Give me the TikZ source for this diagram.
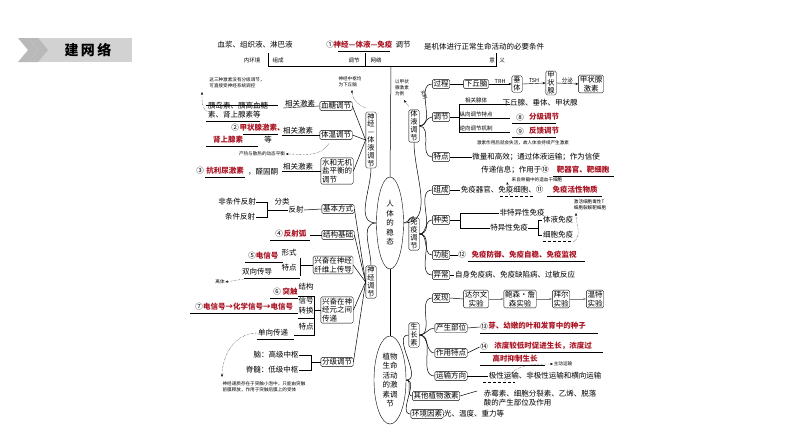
\documentclass[tikz,border=0pt]{standalone}
\usepackage{fontspec}
\setmainfont{Noto Sans CJK SC}
\usetikzlibrary{shapes.geometric,arrows.meta}
\definecolor{rd}{RGB}{170,20,35}
\newcommand{\nl}{\\}
\tikzset{
 bx/.style={draw,rounded corners=1.5pt,inner sep=1.2pt,font=\fontsize{7.5}{8.5}\selectfont,align=center},
 mbx/.style={bx},
 tx/.style={inner sep=0.5pt,font=\fontsize{7.5}{9}\selectfont,align=left},
 hw/.style={inner sep=0.5pt,font=\fontsize{4.6}{6}\selectfont,align=left},
 ln/.style={draw,line width=0.5pt},
 ar/.style={-{Stealth[length=3pt]},line width=0.4pt},
 da/.style={densely dotted,-{Stealth[length=3pt]},line width=0.4pt},
 ul/.style={draw,line width=0.4pt},
 red/.style={text=rd,font=\fontsize{7.5}{8.5}\selectfont\bfseries},
 vbx/.style={draw,rounded corners=1.5pt,text width=8pt,inner xsep=1.2pt,inner ysep=1pt,font=\fontsize{7.2}{7.9}\selectfont,align=center},
 el/.style={draw,ellipse,inner sep=0pt,font=\fontsize{7.5}{9.5}\selectfont,align=center}
}
\begin{document}
\begin{tikzpicture}[x=1pt,y=-1pt]
\useasboundingbox (0,0) rectangle (794,447);
% header
\fill[gray!35] (38,38) rectangle (132,62);
\foreach \d in {0,10}{\fill[gray!55] (18+\d,38)--(28+\d,38)--(38+\d,50)--(28+\d,62)--(18+\d,62)--(28+\d,50)--cycle;}
\node[font=\fontsize{14}{14}\selectfont\bfseries] (hd) at (88,50) {建\,网\,络};
% top
\node[tx] (t1) at (255,45) {血浆、组织液、淋巴液};
\node[tx] (t2) at (330,45) {①};
\node[tx,text=rd,font=\fontsize{7.5}{8.5}\selectfont\bfseries] (t3) at (363,45) {神经—体液—免疫};
\draw[ul] (338,51)--(390,51);
\node[tx] (t4) at (403,45) {调节};
\node[tx] (t5) at (484,47) {是机体进行正常生命活动的必要条件};
\node[hw,font=\fontsize{5.5}{6}\selectfont] (t6) at (252,60) {内环境};
\node[hw,font=\fontsize{5.5}{6}\selectfont] (t7) at (278,60) {组成};
\node[hw,font=\fontsize{5.5}{6}\selectfont] (t8) at (354,60) {调节};
\node[hw,font=\fontsize{5.5}{6}\selectfont] (t9) at (376,60) {网络};
\node[hw,font=\fontsize{5.5}{6}\selectfont] (t10) at (492,60) {意};
\node[hw,font=\fontsize{5.5}{6}\selectfont] (t11) at (502,60) {义};
\draw[ln] (268,53)--(268,66)--(496,66)--(496,53);
\draw[ln] (365,53)--(365,66);
% main ellipses
\node[el,minimum width=27pt,minimum height=92pt] (rt) at (390,223) {人\nl 体\nl 的\nl 稳\nl 态};
\node[el,minimum width=32pt,minimum height=88pt] (zw) at (390,380) {植物\nl 生命\nl 活动\nl 的激\nl 素调\nl 节};
\draw[ln] (391,66)--(rt.north);
\draw[ln] (rt.south)--(zw.north);
% left big boxes
\node[vbx] (sjt) at (371,140) {神\nl 经\nl —\nl 体\nl 液\nl 调\nl 节};
\node[vbx] (sjd) at (371,282) {神\nl 经\nl 调\nl 节};
\draw[ln] (rt.west) to[out=180,in=-90] (sjt.south);
\draw[ln] (rt.west) to[out=180,in=90] (sjd.north);
% right big boxes
\node[vbx] (ytd) at (414,126) {体\nl 液\nl 调\nl 节};
\node[vbx] (myd) at (414,234) {免\nl 疫\nl 调\nl 节};
\node[vbx] (szs) at (414,335) {生\nl 长\nl 素};
\draw[ln] (rt.east) to[out=0,in=-90] (ytd.south);
\draw[ln] (rt.east) to[out=0,in=90] (myd.north);
% neuro-humoral
\node[bx] (xt) at (336,106) {血糖调节};
\node[bx] (tw) at (336,135) {体温调节};
\node[mbx,align=left] (sy) at (337,171) {水和无机\nl 盐平衡的\nl 调节};
\foreach \n in {xt,tw,sy}{\draw[ln] (\n.east)--(sjt.west);}
\node[tx] (xa) at (300,104) {相关激素};
\draw[ul] (283,108)--(xt.west);
\node[tx,align=left] (xb) at (238,110) {胰岛素、胰高血糖\\素、肾上腺素等};
\draw[ul] (206,105)--(278,105); \draw[ul] (206,121)--(260,121);
\node[hw] (xc) at (237,83) {这三种激素没有分级调节，\\可直接受神经系统调控};
\draw[da] (210,112) to[out=180,in=-90] (202,92);
\node[tx] (ta) at (298,131) {相关激素};
\draw[ul] (282,135)--(tw.west);
\node[tx] (tb1) at (235,128) {②};
\node[red] (tb2) at (262,128) {甲状腺激素、};
\node[red] (tb3) at (228,140) {肾上腺素};
\node[tx] (tb4) at (268,140) {等};
\draw[ul] (206,146)--(258,146); \draw[ul] (243,134)--(278,134);
\node[hw] (nz) at (350,82) {神经中枢均\\为下丘脑};
\draw[da] (366,108) to[out=160,in=-90] (352,90);
\node[hw] (cs) at (262,154) {产热与散热的动态平衡};
\draw[da] (329,143) to[out=-120,in=0] (cs.east);
\node[tx] (sa) at (298,167) {相关激素};
\draw[ul] (282,171)--(sy.west);
\node[tx] (sb1) at (200,171) {③};
\node[red] (sb2) at (225,171) {抗利尿激素};
\node[tx] (sb3) at (263,172) {，醛固酮};
\draw[ul] (205,177)--(245,177);
% neural
\node[bx] (jb) at (338,209) {基本方式};
\node[bx] (jg) at (338,235) {结构基础};
\node[mbx,align=left] (xx) at (333,265) {兴奋在神经\nl 纤维上传导};
\node[mbx,align=left] (xy) at (337,310) {兴奋在神\nl 经元之间\nl 传递};
\node[bx] (fj) at (337,362) {分级调节};
\foreach \n in {jb,jg,xx,xy,fj}{\draw[ln] (\n.east)--(sjd.west);}
\node[tx] (fs) at (296,210) {反射};
\draw[ln] (fs.east)--(jb.west);
\node[tx] (fl) at (282,202) {分类};
\node[tx] (fa) at (237,202) {非条件反射};
\node[tx] (fb) at (240,217) {条件反射};
\draw[ln] (fa.east)--(267,202)--(267,217)--(fb.east); \draw[ln] (267,210)--(fs.west);
\node[tx] (fsh1) at (279,234) {④};
\node[red] (fsh) at (295,234) {反射弧};
\draw[ul] (270,240)--(310,240); \draw[ln] (310,235)--(jg.west);
\node[tx] (x5) at (252,256) {⑤};
\node[red] (x5b) at (267,256) {电信号};
\draw[ul] (245,262)--(283,262);
\node[tx] (xs) at (289,253) {形式};
\node[tx] (x6) at (257,272) {双向传导};
\draw[ul] (244,278)--(300,278);
\node[tx] (xtd) at (289,268) {特点};
\draw[ln] (300,258)--(300,276); \draw[ln] (300,265)--(xx.west);
\node[hw] (lt) at (220,282) {离体};
\draw[da] (244,279)--(lt.east);
\node[tx] (s6) at (277,292) {⑥};
\node[red] (s6b) at (290,292) {突触};
\node[tx] (s6c) at (306,287) {结构};
\node[tx] (s7) at (199,307) {⑦};
\node[red] (s7b) at (248,307) {电信号→化学信号→电信号};
\draw[ul] (190,313)--(298,313); \draw[ul] (270,298)--(298,298);
\node[tx] (s7c) at (306,301) {信号};
\node[tx] (s7d) at (306,311) {转换};
\node[tx] (s8) at (306,327) {特点};
\draw[ln] (298,296)--(314,296)--(314,335)--(298,335); \draw[ln] (314,318)--(298,318); \draw[ln] (314,310)--(xy.west);
\node[tx] (dx) at (273,333) {单向传递};
\draw[ul] (257,339)--(294,339); \draw[ln] (294,335)--(298,335);
\node[tx] (n1) at (276,355) {脑：高级中枢};
\node[tx] (n2) at (272,370) {脊髓：低级中枢};
\draw[ln] (n1.east)--(311,355)--(311,370)--(n2.east); \draw[ln] (311,362)--(fj.west);
\node[hw] (dz) at (264,387) {神经递质存在于突触小泡中，只能由突触\\前膜释放，作用于突触后膜上的受体};
\draw[da] (257,333) to[out=180,in=90] (222,377);
% humoral
\node[hw] (sl) at (402,88) {以甲状\\腺激素\\为例};
\draw[da] (409,107)--(404,100);
\node[hw,rotate=-70] (sll) at (424,95) {实例};
\node[bx] (gc) at (441,84) {过程};
\node[bx] (tj) at (441,117) {调节};
\node[bx] (td) at (441,157) {特点};
\foreach \n in {gc,tj,td}{\draw[ln] (ytd.east) to[out=0,in=180] (\n.west);}
\node[bx] (xq) at (476,84) {下丘脑};
\node[vbx] (ct) at (517,84) {垂\nl 体};
\node[vbx] (jz) at (551,83) {甲\nl 状\nl 腺};
\node[mbx] (jj) at (591,84) {甲状腺\nl 激素};
\draw[ln] (gc.east)--(xq.west);
\draw[ar] (xq.east)--node[hw,above,font=\fontsize{5.5}{6}\selectfont]{TRH}(ct.west);
\draw[ar] (ct.east)--node[hw,above,font=\fontsize{5.5}{6}\selectfont]{TSH}(jz.west);
\draw[ar] (jz.east)--node[hw,above,font=\fontsize{5.5}{6}\selectfont]{分泌}(jj.west);
\node[hw,font=\fontsize{5.5}{6}\selectfont] (a1) at (476,100) {相关腺体};
\node[hw,font=\fontsize{5.5}{6}\selectfont] (a2) at (476,114) {纵向调节特点};
\node[hw,font=\fontsize{5.5}{6}\selectfont] (a3) at (476,128) {逆向调节机制};
\draw[ln] (tj.east)--(459,117); \draw[ln] (459,104)--(459,132);
\foreach \y in {104,118,132}{\draw[ul] (459,\y)--(510,\y);}
\node[tx] (b1) at (540,103) {下丘腺、垂体、甲状腺};
\node[tx] (b2) at (520,118) {⑧}; \node[red] (b2r) at (544,117) {分级调节};
\node[tx] (b3) at (520,132) {⑨}; \node[red] (b3r) at (544,131) {反馈调节};
\draw[ul] (512,123)--(556,123); \draw[ul] (512,137)--(556,137);
\node[hw] (c0) at (523,143) {激素作用后就会失活，故人体会持续产生激素};
\node[tx] (c1) at (536,157) {微量和高效；通过体液运输；作为信使};
\node[tx] (c2) at (515,170) {传递信息；作用于⑩};
\node[red] (c3) at (583,170) {靶器官、靶细胞};
\draw[ul] (553,176)--(614,176);
\draw[ln] (td.east)--(c1.west);
% immune
\node[bx] (zc) at (441,190) {组成};
\node[bx] (zl) at (441,220) {种类};
\node[bx] (gn) at (441,255) {功能};
\node[bx] (yc) at (441,275) {异常};
\foreach \n in {zc,zl,gn,yc}{\draw[ln] (myd.east) to[out=0,in=180] (\n.west);}
\node[tx] (d1) at (502,190) {免疫器官、免疫细胞、⑪};
\node[red] (d2) at (575,190) {免疫活性物质};
\draw[ul] (547,196)--(602,196); \draw[densely dashed,line width=0.3pt] (500,196)--(534,196);
\draw[ln] (zc.east)--(d1.west);
\node[hw] (d0) at (537,180) {来自骨髓中的造血干细胞};
\draw[da] (510,196)--(507,182);
\node[tx] (e1) at (522,213) {非特异性免疫};
\node[tx] (e2) at (509,228) {特异性免疫};
\draw[ln] (zl.east)--(460,220); \draw[ln] (460,213)--(460,228);
\draw[ln] (460,213)--(e1.west); \draw[ln] (460,228)--(e2.west);
\node[tx] (e3) at (558,220) {体液免疫};
\node[tx] (e4) at (558,235) {细胞免疫};
\draw[ln] (e2.east)--(538,228); \draw[ln] (538,220)--(538,235);
\draw[ln] (538,220)--(e3.west); \draw[ln] (538,235)--(e4.west);
\draw[densely dashed,line width=0.3pt] (543,241)--(573,241);
\node[hw] (e0) at (590,205) {激活细胞毒性T\\细胞裂解靶细胞};
\draw[da] (573,242) to[out=30,in=-90] (576,213);
\node[tx] (g1) at (462,255) {⑫};
\node[red] (g2) at (524,255) {免疫防御、免疫自稳、免疫监视};
\draw[ul] (468,261)--(585,261); \draw[ln] (gn.east)--(g1.west);
\node[tx] (h1) at (515,275) {自身免疫病、免疫缺陷病、过敏反应};
\draw[ln] (yc.east)--(h1.west);
% plants
\node[bx] (fx) at (441,298) {发现};
\node[mbx] (s1) at (476,299) {达尔文\nl 实验};
\node[mbx] (s2) at (520,299) {鲍森·詹\nl 森实验};
\node[mbx] (s3) at (561,299) {拜尔\nl 实验};
\node[mbx] (s4) at (595,299) {温特\nl 实验};
\draw[ln] (fx.east)--(s1.west);
\draw[ar,gray] (s1.east)--(s2.west); \draw[ar,gray] (s2.east)--(s3.west); \draw[ar,gray] (s3.east)--(s4.west);
\node[bx] (cb) at (451,328) {产生部位};
\node[bx] (zy) at (451,353) {作用特点};
\node[bx] (ys) at (451,376) {运输方向};
\foreach \n in {fx,cb,zy,ys}{\draw[ln] (szs.east) to[out=0,in=180] (\n.west);}
\node[tx] (p1) at (484,327) {⑬};
\node[red] (p2) at (537,326) {芽、幼嫩的叶和发育中的种子};
\draw[ul] (480,333)--(598,333); \draw[ln] (cb.east)--(p1.west);
\node[tx] (q1) at (484,347) {⑭};
\node[red] (q2) at (543,346) {浓度较低时促进生长，浓度过};
\node[red] (q3) at (515,359) {高时抑制生长};
\draw[ul] (480,352)--(603,352); \draw[ul] (480,365)--(545,365); \draw[ln] (zy.east)--(q1.west);
\node[hw] (q4) at (563,364) {主动运输};
\draw[da] (505,381) to[out=60,in=180] (q4.west);
\node[tx] (r1) at (545,376) {极性运输、非极性运输和横向运输};
\draw[densely dashed,line width=0.3pt] (483,382)--(515,382);
\draw[ln] (ys.east)--(r1.west);
\node[bx] (qt) at (436,396) {其他植物激素};
\node[bx] (hj) at (427,414) {环境因素};
\draw[ln] (zw.east) to[out=0,in=180] (szs.west);
\draw[ln] (zw.east) to[out=0,in=180] (qt.west);
\draw[ln] (zw.east) to[out=0,in=180] (hj.west);
\node[tx] (o1) at (540,398) {赤霉素、细胞分裂素、乙烯、脱落\\酸的产生部位及作用};
\draw[ln] (qt.east)--(477,391);
\node[tx] (k1) at (474,414) {光、温度、重力等};
\draw[ln] (hj.east)--(k1.west);
\end{tikzpicture}
\end{document}
